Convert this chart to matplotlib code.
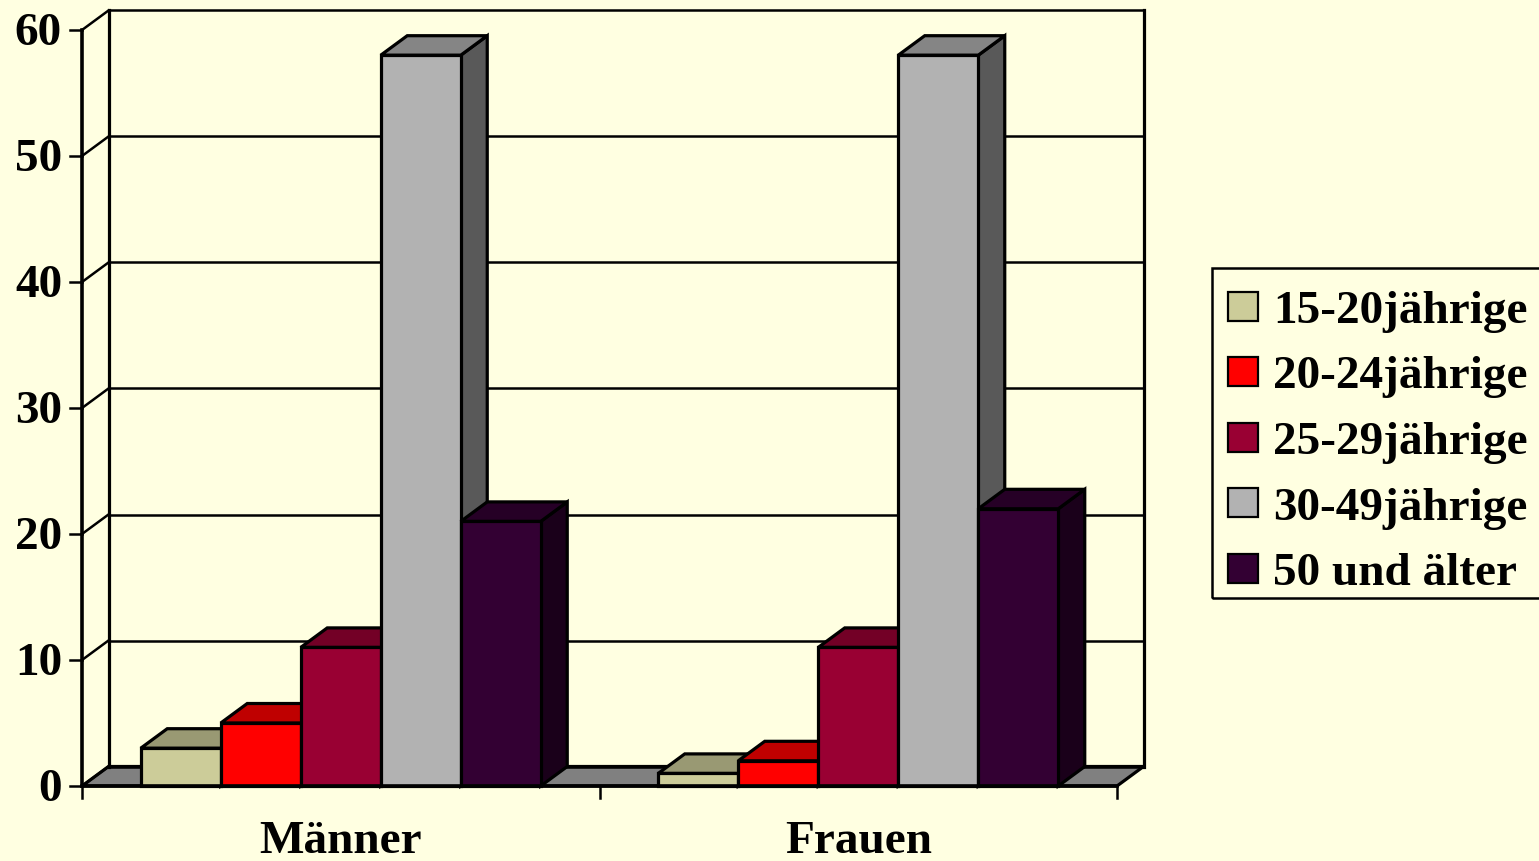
import matplotlib
matplotlib.use("Agg")
import matplotlib.pyplot as plt
from matplotlib.patches import Polygon, Rectangle
from matplotlib.colors import to_rgb
from matplotlib.transforms import offset_copy

# ---- data ----
categories = ["Männer", "Frauen"]
series = ["15-20jährige", "20-24jährige", "25-29jährige", "30-49jährige", "50 und älter"]
maenner = [3, 5, 11, 58, 21]
frauen = [1, 2, 11, 58, 22]
values = [maenner, frauen]
yticks = [0, 10, 20, 30, 40, 50, 60]
colors = ["#CCCC99", "#FF0000", "#990033", "#B2B2B2", "#330033"]

BG = "#FFFFE1"
FONT = "Liberation Serif"
FS = 34

W, H = 1539, 861
fig = plt.figure(figsize=(W / 100, H / 100), dpi=100)
fig.patch.set_facecolor(BG)
ax = fig.add_axes([0, 0, 1, 1])
ax.axis("off")

# geometry (pixels -> data scale)
X0_PX, CAT_PX = 82, 517.5
Y0_PX, UNIT_PX = 786, 12.6
ax.set_xlim(-X0_PX / CAT_PX, (W - X0_PX) / CAT_PX)
ax.set_ylim(-(H - Y0_PX) / UNIT_PX, Y0_PX / UNIT_PX)
DX = 26.5 / CAT_PX
DY = 19.5 / UNIT_PX
ncat = len(categories)
ymax = yticks[-1]
LW = 2.3
GLW = 1.8

# floor
ax.add_patch(Polygon([(0, 0), (ncat, 0), (ncat + DX, DY), (DX, DY)],
                     closed=True, facecolor="#808080", edgecolor="black",
                     lw=LW, zorder=1, joinstyle="miter"))
# walls & gridlines
for v in yticks:
    ax.plot([0, DX], [v, v + DY], color="black", lw=GLW, zorder=2)
    ax.plot([DX, ncat + DX], [v + DY, v + DY], color="black", lw=GLW, zorder=2)
    ax.plot([-12 / CAT_PX, 0], [v, v], color="black", lw=GLW, zorder=2)
ax.plot([DX, DX], [DY, ymax + DY], color="black", lw=LW, zorder=2)
ax.plot([ncat + DX, ncat + DX], [DY, ymax + DY], color="black", lw=LW, zorder=2)
ax.plot([0, 0], [0, ymax], color="black", lw=2.6, zorder=20)
ax.plot([0, ncat], [0, 0], color="black", lw=2.6, zorder=20)
for c in range(ncat + 1):
    ax.plot([c, c], [0, -12 / UNIT_PX], color="black", lw=GLW, zorder=20)


def shade(col, f):
    r, g, b = to_rgb(col)
    return (r * f, g * f, b * f)


bar_w = 80 / CAT_PX
n = len(series)
z = 5
for c in range(ncat):
    start = c + (1 - n * bar_w) / 2
    for i in range(n):
        h = values[c][i]
        x0 = start + i * bar_w
        ax.add_patch(Polygon([(x0 + bar_w, 0), (x0 + bar_w + DX, DY),
                              (x0 + bar_w + DX, h + DY), (x0 + bar_w, h)],
                             closed=True, facecolor=shade(colors[i], 0.5),
                             edgecolor="black", lw=LW, zorder=z, joinstyle="miter"))
        ax.add_patch(Polygon([(x0, h), (x0 + bar_w, h), (x0 + bar_w + DX, h + DY),
                              (x0 + DX, h + DY)],
                             closed=True, facecolor=shade(colors[i], 0.75),
                             edgecolor="black", lw=LW, zorder=z + 0.1, joinstyle="miter"))
        ax.bar(x0, h, width=bar_w, align="edge", color=colors[i],
               edgecolor="black", lw=LW, zorder=z + 0.2)
        z += 1

# tick labels
tr_y = offset_copy(ax.transData, fig, x=-20, y=-15, units="dots")
for v in yticks:
    ax.text(0, v, str(v), transform=tr_y, ha="right", va="baseline",
            fontsize=FS, fontweight="bold", family=FONT, zorder=30)
tr_x = offset_copy(ax.transData, fig, x=0, y=-67, units="dots")
for c, name in enumerate(categories):
    ax.text(c + 0.5, 0, name, transform=tr_x, ha="center", va="baseline",
            fontsize=FS, fontweight="bold", family=FONT, zorder=30)

# legend (drawn in figure pixel coords)
def fx(px):
    return px / W


def fy(py):
    return 1 - py / H


fig.add_artist(Rectangle((fx(1212), fy(598)), fx(1600) - fx(1212), fy(268) - fy(598),
                         transform=fig.transFigure, facecolor="none",
                         edgecolor="black", lw=1.8, zorder=10))
for i, name in enumerate(series):
    cy = 306 + i * 65.5
    fig.add_artist(Rectangle((fx(1228), fy(cy + 14.5)), fx(30), 29 / H,
                             transform=fig.transFigure, facecolor=colors[i],
                             edgecolor="black", lw=1.6, zorder=11))
    fig.text(fx(1273), fy(cy + 17), name, ha="left", va="baseline",
             fontsize=FS, fontweight="bold", family=FONT)

fig.savefig("out.png", dpi=100, facecolor=BG)
